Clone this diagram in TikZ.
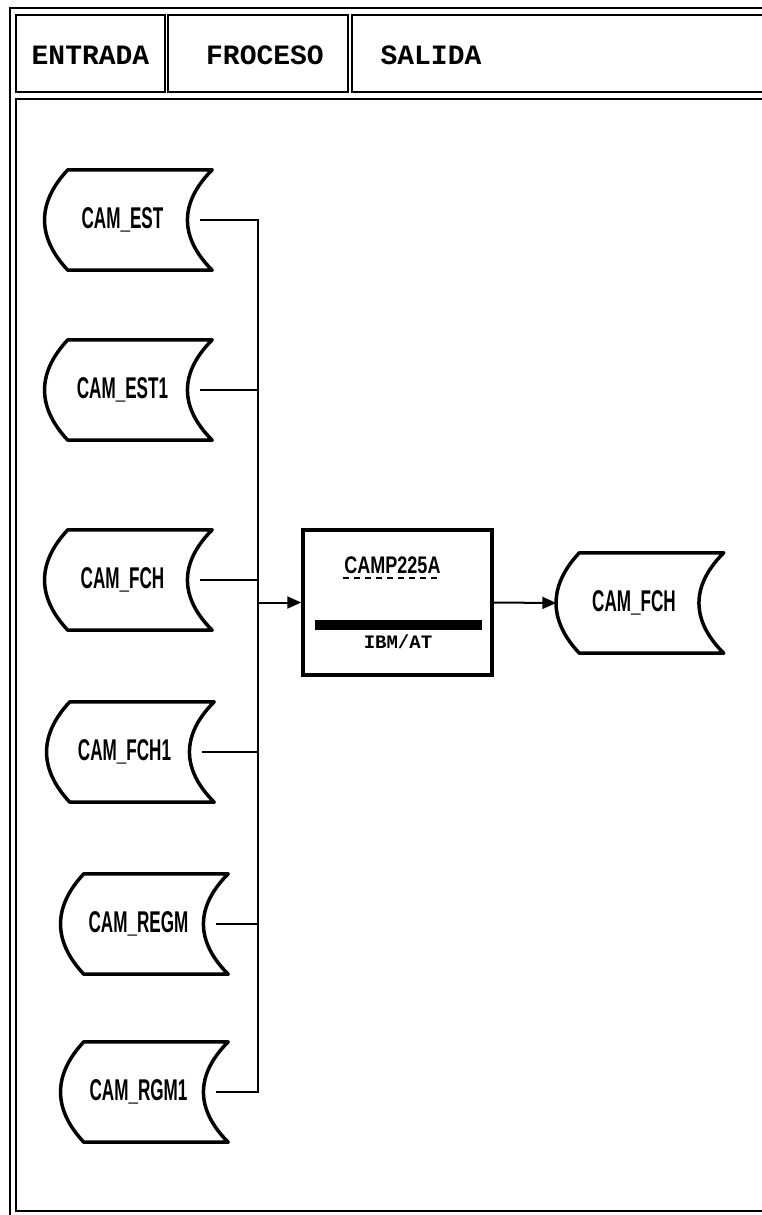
\documentclass[tikz,border=0pt]{standalone}
\usepackage{fontspec}
\usetikzlibrary{arrows.meta}
\newfontfamily\headfont{Liberation Mono}
\newfontfamily\tapefont{Liberation Sans}[FakeStretch=0.57]
\newfontfamily\procfont{Liberation Sans}[FakeStretch=0.75]

\begin{document}
\begin{tikzpicture}[x=1pt, y=-1pt, node distance=170pt]
        \tikzstyle{frame} = [line width=2pt];
        \tikzstyle{head} = [font=\headfont\bfseries\fontsize{28}{30}\selectfont];
        \tikzstyle{wire} = [line width=2pt];
        \tikzstyle{arrow} = [wire, -{Triangle[length=14pt, width=12pt]}];
        \tikzstyle{procbox} = [draw, line width=3.5pt, rectangle, minimum width=189pt, minimum height=145pt];
        \tikzstyle{tape} = [minimum width=155pt, minimum height=100pt, inner sep=0pt,
            font=\tapefont\bfseries\fontsize{30}{32}\selectfont,
            append after command={\pgfextra{\let\tp\tikzlastnode
                \draw[line width=3.5pt, line join=round]
                    ([xshift=23pt]\tp.north west) -- ([xshift=12pt]\tp.north east)
                    .. controls ([xshift=-21pt, yshift=-33pt]\tp.north east) and ([xshift=-21pt, yshift=33pt]\tp.south east) .. ([xshift=12pt]\tp.south east)
                    -- ([xshift=23pt]\tp.south west)
                    .. controls ([xshift=-8pt, yshift=33pt]\tp.south west) and ([xshift=-8pt, yshift=-33pt]\tp.north west) .. cycle;}}];

        \useasboundingbox (0,0) rectangle (762,1215);
        \clip (0,0) rectangle (762,1215);
        \fill[white] (0,0) rectangle (762,1215);

        % form frame
        \draw[frame] (10,1230) -- (10,8) -- (800,8);
        \draw[frame] (16,15) rectangle (165,92);
        \draw[frame] (168,15) rectangle (348,92);
        \draw[frame] (352,15) rectangle (800,92);
        \draw[frame] (16,99) rectangle (800,1211);

        \node(entrada)[head] at (90.5,55){ENTRADA};
        \node(proceso)[head] at (265,55){FROCESO};
        \node(salida)[head] at (431,55){SALIDA};

        % input files
        \node(camest)[tape] at (122.5,220){CAM\_EST};
        \node(camestone)[tape, below of=camest]{CAM\_EST1};
        \node(camfch)[tape, below of=camestone, yshift=-20pt]{CAM\_FCH};
        \node(camfchone)[tape, below of=camfch, yshift=-2pt, xshift=2pt]{CAM\_FCH1};
        \node(camregm)[tape, below of=camfchone, yshift=-2pt, xshift=14pt]{CAM\_REGM};
        \node(camrgmone)[tape, below of=camregm, yshift=2pt]{CAM\_RGM1};

        % program
        \node(camp)[procbox] at (397.5,602.5){};
        \node(campname)[font=\procfont\bfseries\fontsize{24}{26}\selectfont, inner sep=1pt] at ([xshift=-5pt, yshift=-37pt]camp.north){CAMP225A};
        \draw[line width=2pt, dash pattern=on 6pt off 5pt] ([yshift=-3pt]campname.south west) -- ([yshift=-3pt]campname.south east);
        \node(bar)[fill=black, minimum width=167pt, minimum height=10pt, inner sep=0pt] at (398.5,625){};
        \node(ibm)[font=\headfont\bfseries\fontsize{19}{20}\selectfont, inner sep=0pt] at (398,642){IBM/AT};

        % output file
        \node(camfchout)[tape] at (634,603){CAM\_FCH};

        \coordinate(bus) at (258,0);
        \draw[wire] (camest.east) -| (bus |- camrgmone.east) -- (camrgmone.east);
        \foreach \f in {camestone, camfch, camfchone, camregm}
            \draw[wire] (\f.east) -- (\f.east -| bus);
        \draw[arrow] (bus |- camp.west) -- (camp.west);
        \draw[arrow] (camp.east) -- (camfchout.west);
\end{tikzpicture}
\end{document}
